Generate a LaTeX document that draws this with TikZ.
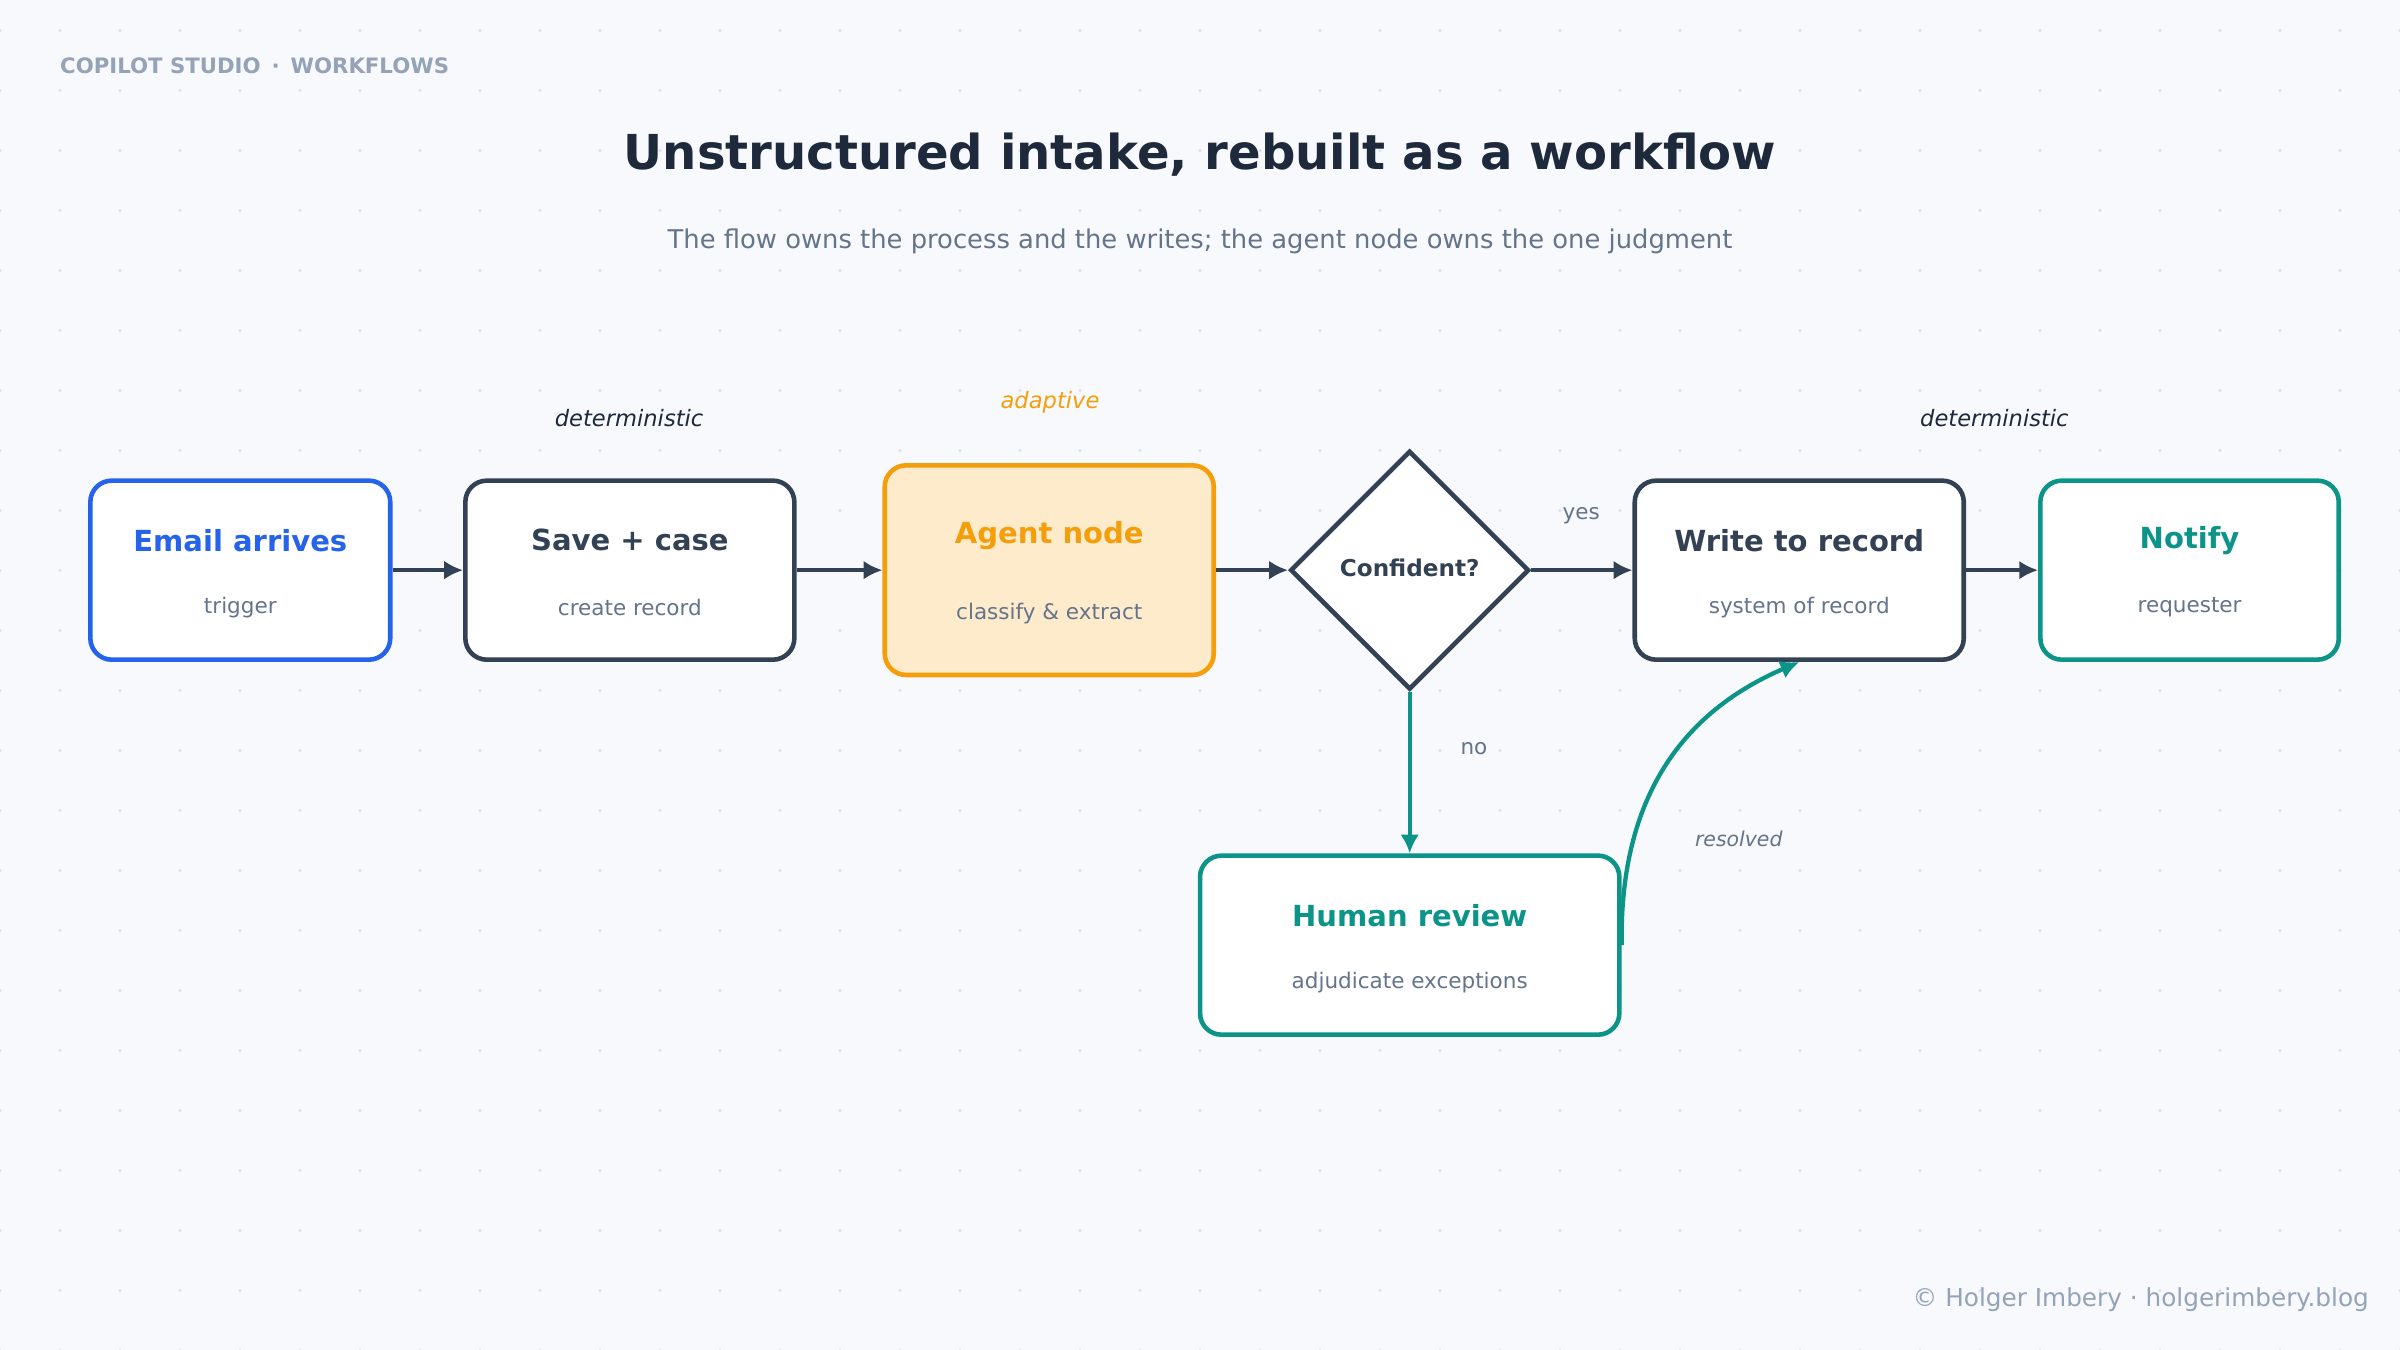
\documentclass[tikz,border=0pt]{standalone}
\usepackage{fontspec}
\setmainfont{DejaVu Sans}
\usetikzlibrary{shapes.geometric,arrows.meta}
\definecolor{bg}{HTML}{F7F9FC}
\definecolor{dotc}{HTML}{DDE2EA}
\definecolor{ink}{HTML}{1E293B}
\definecolor{slate}{HTML}{334155}
\definecolor{muted}{HTML}{64748B}
\definecolor{light}{HTML}{94A3B8}
\definecolor{blue}{HTML}{2563EB}
\definecolor{orange}{HTML}{F59E0B}
\definecolor{ofill}{HTML}{FDEBCC}
\definecolor{teal}{HTML}{0D9488}
\tikzset{
 box/.style={draw, line width=1.7pt, rounded corners=0.28cm, fill=white, inner sep=0},
 ttl/.style={font=\bfseries\fontsize{10.8}{12}\selectfont},
 sub/.style={font=\fontsize{8}{9}\selectfont, text=muted},
 arr/.style={line width=1.6pt, draw=slate, -{Latex[length=7pt,width=7pt]}},
 tag/.style={font=\itshape\fontsize{8.4}{10}\selectfont},
}
\begin{document}
\begin{tikzpicture}[x=0.02cm,y=-0.02cm]
\fill[bg] (0,0) rectangle (1568,882);
\useasboundingbox (0,0) rectangle (1568,882);
\foreach \i in {0,...,40}{\foreach \j in {0,...,22}{\fill[dotc] (\i*39.2,\j*39.2+20) circle (1.2);}}
\node[anchor=west, text=light, inner sep=0, font=\bfseries\fontsize{7.9}{9}\selectfont] (hdr) at (39,43) {COPILOT STUDIO \,·\, WORKFLOWS};
\node[text=ink, font=\bfseries\fontsize{17.9}{21}\selectfont] (title) at (784,101) {Unstructured intake, rebuilt as a workflow};
\node[text=muted, font=\fontsize{9.6}{11}\selectfont] (subt) at (784,158) {The flow owns the process and the writes; the agent node owns the one judgment};
\node[anchor=east, text=light, inner sep=0, font=\fontsize{9.2}{11}\selectfont] (foot) at (1548,849) {© Holger Imbery · holgerimbery.blog};

\node[box, draw=blue, minimum width=3.92cm, minimum height=2.34cm] (email) at (157,372.5) {};
\node[box, draw=slate, minimum width=4.3cm, minimum height=2.34cm] (save) at (411.5,372.5) {};
\node[box, draw=orange, fill=ofill, minimum width=4.3cm, minimum height=2.74cm] (agent) at (685.5,372.5) {};
\node[draw=slate, line width=1.7pt, fill=white, diamond, minimum width=3.12cm, minimum height=3.12cm, inner sep=0] (conf) at (921,372.5) {};
\node[box, draw=slate, minimum width=4.3cm, minimum height=2.34cm] (write) at (1175.5,372.5) {};
\node[box, draw=teal, minimum width=3.9cm, minimum height=2.34cm] (notify) at (1430.5,372.5) {};
\node[box, draw=teal, minimum width=5.48cm, minimum height=2.34cm] (human) at (921,617.5) {};

\node[ttl, text=blue] (t1) at (157,353) {Email arrives};
\node[sub] (s1) at (157,397) {trigger};
\node[ttl, text=slate] (t2) at (411.5,353) {Save + case};
\node[sub] (s2) at (411.5,397) {create record};
\node[ttl, text=orange] (t3) at (685.5,350) {Agent node};
\node[sub] (s3) at (685.5,401) {classify \& extract};
\node[text=slate, font=\bfseries\fontsize{8.6}{10}\selectfont] (t4) at (921,371) {Confident?};
\node[ttl, text=slate] (t5) at (1175.5,353) {Write to record};
\node[sub] (s5) at (1175.5,397) {system of record};
\node[ttl, text=teal] (t6) at (1430.5,353) {Notify};
\node[sub] (s6) at (1430.5,397) {requester};
\node[ttl, text=teal] (t7) at (921,598) {Human review};
\node[sub] (s7) at (921,642) {adjudicate exceptions};

\node[tag, text=ink] (d1) at (411,273) {deterministic};
\node[tag, text=orange] (ad) at (686,263) {adaptive};
\node[tag, text=ink] (d2) at (1303,273) {deterministic};
\node[sub] (yes) at (1033,337) {yes};
\node[sub] (no) at (963,489) {no};
\node[tag, text=muted, font=\itshape\fontsize{7.6}{9}\selectfont] (res) at (1136,548) {resolved};

\draw[arr] (email) -- (save);
\draw[arr] (save) -- (agent);
\draw[arr] (agent) -- (conf);
\draw[arr] (conf) -- (write);
\draw[arr] (write) -- (notify);
\draw[arr, draw=teal] (conf.south) -- (human.north);
\draw[line width=1.6pt, draw=teal, -{Latex[length=7pt,width=7pt]}] (human.east) .. controls (1058,520) and (1100,465) .. (write.south);
\end{tikzpicture}
\end{document}
